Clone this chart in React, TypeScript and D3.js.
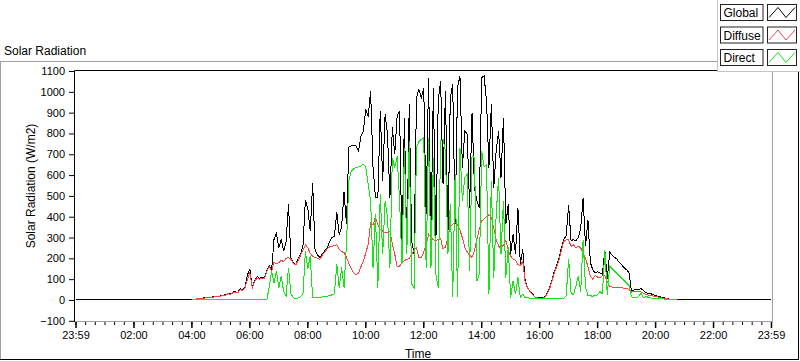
import React, { useRef, useEffect } from 'react';
import * as d3 from 'd3';

// samples every 5 minutes starting at 04:00 (minutes since midnight)
const startMinute = 240;
const stepMinutes = 5;

const globalValues = [
  0, 3, 5, 6, 8, 10, 10, 12, 14, 15,
  16, 18, 20, 22, 26, 32, 28, 38, 40, 36,
  55, 48, 62, 120, 150, 60, 95, 112, 105, 108,
  106, 140, 165, 140, 290, 320, 250, 290, 235, 280,
  460, 200, 180, 170, 200, 220, 260, 480, 440, 330,
  560, 240, 215, 205, 220, 235, 250, 280, 300, 305,
  420, 315, 350, 520, 365, 735, 740, 742, 740, 716,
  785, 812, 916, 880, 1005, 640, 495, 490, 910, 572,
  892, 796, 492, 830, 700, 884, 908, 230, 876, 230,
  940, 284, 220, 972, 1012, 972, 1020, 412, 1068, 316,
  1020, 252, 956, 1052, 556, 1004, 300, 972, 1036, 364,
  1020, 1076, 636, 812, 796, 444, 900, 540, 476, 444,
  1068, 1076, 956, 636, 940, 540, 716, 812, 588, 876,
  364, 460, 220, 316, 220, 444, 172, 244, 90, 60,
  42, 30, 15, 12, 10, 10, 15, 30, 55, 90,
  135, 165, 200, 250, 290, 310, 455, 285, 290, 285,
  300, 345, 490, 260, 385, 180, 145, 130, 135, 130,
  125, 240, 100, 230, 215, 205, 196, 180, 168, 155,
  145, 132, 45, 48, 50, 50, 55, 45, 36, 32,
  30, 26, 22, 18, 15, 12, 9, 6, 3, 1,
  0, 0
];

const diffuseValues = [
  0, 4, 5, 6, 7, 9, 10, 11, 13, 14,
  15, 17, 19, 21, 24, 30, 27, 35, 38, 35,
  50, 46, 58, 100, 130, 58, 90, 105, 100, 104,
  102, 135, 160, 138, 180, 175, 180, 190, 185, 200,
  205, 195, 175, 168, 190, 215, 240, 265, 250, 225,
  210, 205, 200, 195, 215, 230, 245, 255, 258, 262,
  265, 245, 232, 228, 205, 175, 150, 130, 122, 130,
  160, 188, 225, 268, 372, 360, 400, 360, 340, 330,
  325, 322, 332, 270, 220, 160, 162, 180, 190, 195,
  198, 220, 240, 250, 205, 204, 230, 265, 316, 300,
  290, 285, 290, 295, 244, 255, 300, 355, 364, 375,
  360, 335, 300, 252, 232, 215, 205, 236, 290, 340,
  380, 388, 400, 410, 396, 345, 290, 260, 244, 265,
  284, 240, 210, 196, 190, 170, 165, 186, 85, 58,
  40, 28, 14, 10, 8, 8, 12, 26, 50, 85,
  128, 158, 190, 240, 280, 290, 290, 258, 266, 250,
  258, 250, 226, 200, 160, 115, 100, 118, 110, 106,
  118, 115, 90, 66, 62, 58, 58, 58, 58, 57,
  55, 52, 38, 40, 42, 42, 38, 32, 27, 24,
  22, 19, 16, 14, 12, 9, 7, 5, 3, 1,
  0, 0
];

const directValues = [
  0, 0, 0, 0, 0, 0, 0, 0, 0, 0,
  0, 0, 0, 0, 0, 0, 0, 0, 0, 0,
  4, 0, 0, 0, 4, 0, 0, 0, 0, 0,
  0, 0, 60, 138, 80, 140, 60, 115, 40, 20,
  155, 30, 10, 8, 10, 15, 30, 234, 150, 210,
  10, 10, 12, 12, 15, 15, 18, 20, 25, 30,
  172, 60, 156, 60, 268, 572, 620, 630, 636, 640,
  644, 652, 640, 556, 476, 156, 412, 60, 508, 220,
  476, 396, 156, 684, 636, 690, 476, 172, 732, 220,
  764, 76, 60, 732, 760, 772, 780, 156, 780, 156,
  684, 124, 60, 764, 772, 716, 220, 460, 12, 604,
  12, 732, 476, 588, 604, 140, 692, 684, 92, 124,
  716, 640, 652, 28, 572, 108, 412, 588, 220, 476,
  108, 252, 12, 92, 28, 108, 12, 28, 10, 12,
  8, 6, 6, 6, 6, 6, 6, 6, 6, 6,
  6, 6, 6, 6, 8, 20, 198, 35, 25, 66,
  115, 40, 290, 60, 22, 20, 18, 22, 25, 40,
  30, 240, 25, 162, 150, 140, 128, 115, 104, 92,
  82, 70, 15, 12, 12, 15, 35, 10, 18, 12,
  10, 8, 7, 6, 5, 5, 4, 3, 2, 1,
  0, 0
];

const seriesNames = ['Global', 'Diffuse', 'Direct'];
const seriesColors = ['#000000', '#ff4343', '#14e614'];

const yTickValues = [-100, 0, 100, 200, 300, 400, 500, 600, 700, 800, 900, 1000, 1100];
const xTickMinutes = [-1, 119, 239, 359, 479, 599, 719, 839, 959, 1079, 1199, 1319, 1439];
const xTickLabels = ['23:59', '02:00', '04:00', '06:00', '08:00', '10:00', '12:00', '14:00', '16:00', '18:00', '20:00', '22:00', '23:59'];
const minorStepMinutes = 20;

const App = () => {
  const chart = useRef(null);

  useEffect(() => {
    const svg = d3.select(chart.current);
    svg.selectAll('*').remove();
    const font = '"Liberation Sans", Arial, sans-serif';

    // plot frame
    const left = 74.5, right = 772.5, top = 70.5, bottom = 321.5;

    const x = d3.scaleLinear()
      .domain([xTickMinutes[0], xTickMinutes[xTickMinutes.length - 1]])
      .range([75.5, 771]);
    const y = d3.scaleLinear()
      .domain([-100, 1100])
      .range([320.8, 71]);

    // outer panel
    svg.append('line').attr('x1', 0).attr('x2', 800).attr('y1', 61.5).attr('y2', 61.5).attr('stroke', '#a0a0a0');
    svg.append('line').attr('x1', 0.5).attr('x2', 0.5).attr('y1', 61.5).attr('y2', 360).attr('stroke', '#a0a0a0');
    svg.append('line').attr('x1', 0).attr('x2', 799).attr('y1', 359.5).attr('y2', 359.5).attr('stroke', '#000');
    svg.append('line').attr('x1', 798.5).attr('x2', 798.5).attr('y1', 61.5).attr('y2', 360).attr('stroke', '#000');

    svg.append('text')
      .attr('x', 4).attr('y', 55)
      .attr('font-family', font).attr('font-size', 12)
      .text('Solar Radiation');

    // data
    const toPoints = (vals: number[]) => vals.map((v, i) => [startMinute + i * stepMinutes, v] as [number, number]);
    const domain = x.domain();
    const globalPoints = [[domain[0], 0] as [number, number], ...toPoints(globalValues), [domain[1], 0] as [number, number]];
    const allSeries = [globalPoints, toPoints(diffuseValues), toPoints(directValues)];

    const line = d3.line<[number, number]>()
      .x(d => x(d[0]))
      .y(d => y(d[1]));

    allSeries.forEach((pts, k) => {
      svg.append('path')
        .datum(pts)
        .attr('fill', 'none')
        .attr('stroke', seriesColors[k])
        .attr('stroke-width', 1)
        .attr('shape-rendering', 'crispEdges')
        .attr('d', line);
    });

    // frame lines of the plot area
    svg.append('line').attr('x1', left).attr('x2', right).attr('y1', top).attr('y2', top).attr('stroke', '#000');
    svg.append('line').attr('x1', left).attr('x2', left).attr('y1', top).attr('y2', bottom + 0.5).attr('stroke', '#000');
    svg.append('line').attr('x1', right).attr('x2', right).attr('y1', top).attr('y2', bottom).attr('stroke', '#a0a0a0');
    svg.append('line').attr('x1', left + 0.5).attr('x2', right + 0.5).attr('y1', bottom).attr('y2', bottom).attr('stroke', '#a0a0a0');

    // y axis
    const yAxis = svg.append('g')
      .attr('transform', 'translate(74,0)')
      .call(d3.axisLeft(y).tickValues(yTickValues).tickSize(5).tickPadding(4)
        .tickFormat(d3.format('d')).tickSizeOuter(0));
    yAxis.select('.domain').remove();
    yAxis.selectAll('text').attr('font-family', font).attr('font-size', 11).attr('fill', '#000');

    // x axis, minor ticks
    const minorTicks = d3.range(xTickMinutes[0], xTickMinutes[xTickMinutes.length - 1] + 1, minorStepMinutes);
    const xMinor = svg.append('g')
      .attr('transform', 'translate(0,322)')
      .call(d3.axisBottom(x).tickValues(minorTicks).tickSize(3).tickFormat(() => '').tickSizeOuter(0));
    xMinor.select('.domain').remove();

    const xAxis = svg.append('g')
      .attr('transform', 'translate(0,322)')
      .call(d3.axisBottom(x).tickValues(xTickMinutes).tickSize(6).tickPadding(3)
        .tickFormat((d, i) => xTickLabels[i]).tickSizeOuter(0));
    xAxis.select('.domain').remove();
    xAxis.selectAll('line').attr('stroke-width', 1.5);
    xAxis.selectAll('text').attr('font-family', font).attr('font-size', 11).attr('fill', '#000');

    svg.append('text')
      .attr('x', 418).attr('y', 358)
      .attr('text-anchor', 'middle')
      .attr('font-family', font).attr('font-size', 12)
      .text('Time');

    svg.append('text')
      .attr('transform', 'translate(35,186) rotate(-90)')
      .attr('text-anchor', 'middle')
      .attr('font-family', font).attr('font-size', 12)
      .text('Solar Radiation (W/m2)');

    // legend
    const legend = svg.append('g');
    legend.append('rect')
      .attr('x', 717.5).attr('y', -1).attr('width', 90).attr('height', 72.5)
      .attr('fill', '#fff').attr('stroke', '#c4c4c4');
    seriesNames.forEach((name, k) => {
      const ry = 4.5 + k * 22.5;
      legend.append('rect')
        .attr('x', 720.5).attr('y', ry).attr('width', 42.5).attr('height', 16)
        .attr('fill', '#fff').attr('stroke', '#222');
      legend.append('text')
        .attr('x', 723.5).attr('y', ry + 12.5)
        .attr('font-family', font).attr('font-size', 12)
        .text(name);
      legend.append('rect')
        .attr('x', 767.5).attr('y', ry).attr('width', 29).attr('height', 16)
        .attr('fill', '#fff').attr('stroke', '#222');
      legend.append('path')
        .attr('d', `M${769},${ry + 13} L${778},${ry + 3} L${786},${ry + 13} L${795},${ry + 3}`)
        .attr('fill', 'none')
        .attr('stroke', seriesColors[k]);
    });
  }, []);

  return (
    <svg
      ref={chart}
      width={800}
      height={361}
      style={{ position: 'absolute', left: 0, top: 0, background: '#fff' }}
    />
  );
};

export default App;
